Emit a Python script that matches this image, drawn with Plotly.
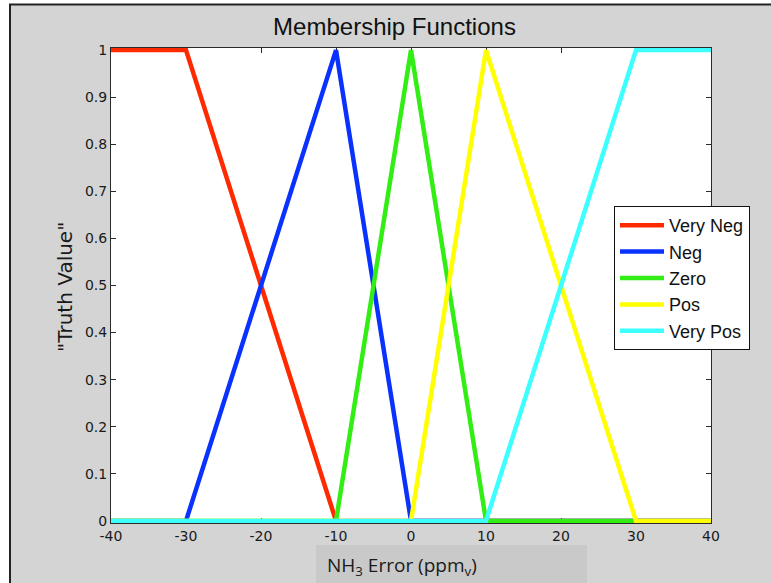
import plotly.graph_objects as go

# Membership function breakpoints (error in ppm_v) and truth values
x_very_neg = [-40, -30, -10, 40]
y_very_neg = [1, 1, 0, 0]
x_neg = [-40, -30, -10, 0, 40]
y_neg = [0, 0, 1, 0, 0]
x_zero = [-40, -10, 0, 10, 40]
y_zero = [0, 0, 1, 0, 0]
x_pos = [-40, 0, 10, 30, 40]
y_pos = [0, 0, 1, 0, 0]
x_very_pos = [-40, 10, 30, 40]
y_very_pos = [0, 0, 1, 1]

names = ["Very Neg", "Neg", "Zero", "Pos", "Very Pos"]
colors = ["#ff2a00", "#0a32ff", "#33ee14", "#ffff00", "#3cffff"]
series = [
    (x_very_neg, y_very_neg),
    (x_neg, y_neg),
    (x_zero, y_zero),
    (x_pos, y_pos),
    (x_very_pos, y_very_pos),
]

x_ticks = [-40, -30, -20, -10, 0, 10, 20, 30, 40]
x_ticktext = ["-40", "-30", "-20", "-10", "0", "10", "20", "30", "40"]
y_ticks = [0, 0.1, 0.2, 0.3, 0.4, 0.5, 0.6, 0.7, 0.8, 0.9, 1]
y_ticktext = ["0", "0.1", "0.2", "0.3", "0.4", "0.5", "0.6", "0.7", "0.8", "0.9", "1"]

W, H = 771, 583
ML, MR, MT, MB = 111, 60, 48, 60
PW, PH = W - ML - MR, H - MT - MB
BG = "#d4d4d4"


def px(xp):
    return (xp - ML) / PW


def py(yp):
    return (H - MB - yp) / PH


fig = go.Figure()
for (xs, ys), name, col in zip(series, names, colors):
    fig.add_trace(go.Scatter(
        x=xs, y=ys, mode="lines", name=name,
        line=dict(color=col, width=4.5),
    ))

tick_font = dict(family="DejaVu Sans", size=14, color="#1a1a1a")
axis_common = dict(
    showgrid=False, zeroline=False, showline=True, linecolor="#2a2a2a",
    linewidth=1, mirror="ticks", ticks="inside", ticklen=5, tickcolor="#2a2a2a",
    tickfont=tick_font, layer="below traces",
)

fig.update_xaxes(range=[-40, 40], tickvals=x_ticks, ticktext=x_ticktext, **axis_common)
fig.update_yaxes(range=[-0.0045, 1.0045], tickvals=y_ticks, ticktext=y_ticktext,
                 **axis_common)

shapes = [
    # white strips outside the window frame
    dict(type="rect", xref="paper", yref="paper", x0=px(0), x1=px(W),
         y0=py(5), y1=py(0), fillcolor="white", line_width=0, layer="below"),
    dict(type="rect", xref="paper", yref="paper", x0=px(0), x1=px(9),
         y0=py(H), y1=py(0), fillcolor="white", line_width=0, layer="below"),
    # frame edges
    dict(type="line", xref="paper", yref="paper", x0=px(9), x1=px(W),
         y0=py(4.5), y1=py(4.5), line=dict(color="#222222", width=2)),
    dict(type="line", xref="paper", yref="paper", x0=px(10), x1=px(10),
         y0=py(4.5), y1=py(H), line=dict(color="#222222", width=2)),
    # x-label panel
    dict(type="rect", xref="paper", yref="paper", x0=px(316), x1=px(587),
         y0=py(H), y1=py(545), fillcolor="#c9c9c9", line_width=0, layer="below"),
]

annotations = [
    dict(text="NH<sub>3</sub> Error (ppm<sub>v</sub>)", xref="paper", yref="paper",
         x=px(325), y=py(566), xanchor="left", yanchor="middle", showarrow=False,
         font=dict(family="Open Sans", size=19, color="#1a1a1a")),
    dict(text="\"Truth Value\"", xref="paper", yref="paper", textangle=-90,
         x=px(65), y=py(287), xanchor="center", yanchor="middle", showarrow=False,
         font=dict(family="DejaVu Sans", size=20, color="#1a1a1a")),
]

fig.update_layout(
    width=W, height=H, autosize=False,
    margin=dict(l=ML, r=MR, t=MT, b=MB),
    paper_bgcolor=BG, plot_bgcolor="white",
    title=dict(text="Membership Functions", xref="container", yref="container",
               x=394.5 / W, y=1 - 27 / H, xanchor="center", yanchor="middle",
               font=dict(family="Liberation Sans", size=24, color="#111111")),
    showlegend=True,
    legend=dict(
        x=px(614), y=py(206), xanchor="left", yanchor="top",
        bgcolor="white", bordercolor="#111111", borderwidth=1,
        font=dict(family="Liberation Sans", size=18, color="#111111"),
        itemwidth=44, traceorder="normal",
    ),
    shapes=shapes,
    annotations=annotations,
)

fig.write_html("out.html")
